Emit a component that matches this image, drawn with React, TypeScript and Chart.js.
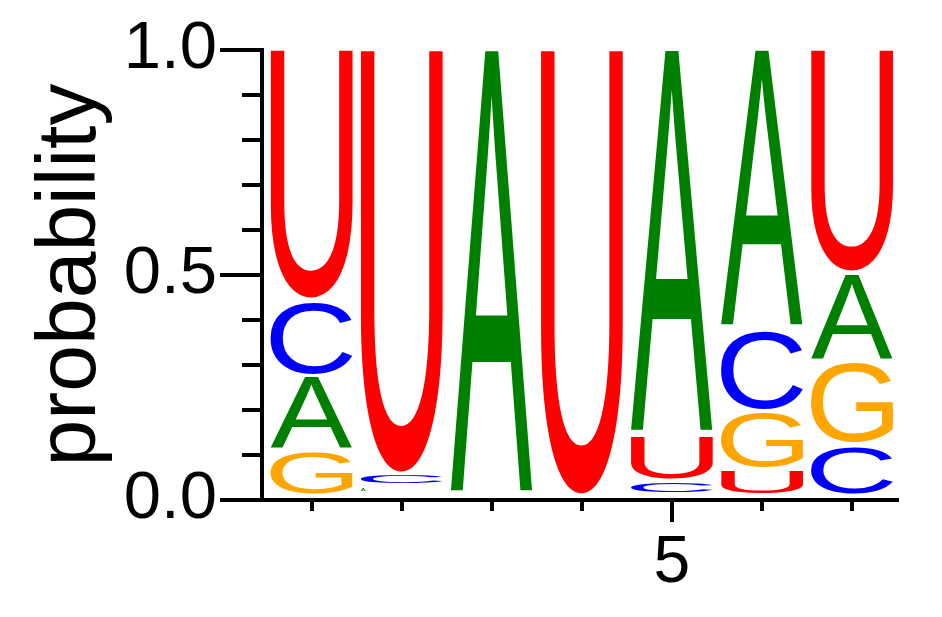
import React, { useEffect, useRef } from "react";
import { Chart, registerables } from "chart.js";

Chart.register(...registerables);

const positions = [1, 2, 3, 4, 5, 6, 7];
const letters = ["A", "C", "G", "U"];
const probA = [0.167, 0.015, 1.0, 0.0, 0.86, 0.624, 0.196];
const probC = [0.169, 0.026, 0.0, 0.0, 0.031, 0.183, 0.118];
const probG = [0.104, 0.012, 0.0, 0.0, 0.007, 0.129, 0.186];
const probU = [0.56, 0.947, 0.0, 1.0, 0.102, 0.064, 0.5];
const letterColors = ["#008000", "#0000ff", "#ffa500", "#ff0000"];
const xLabeledTicks = [5];
const yMajorTicks = [0, 0.5, 1];
const yTitle = "probability";

const FONT = "'Liberation Sans', Arial, Helvetica, sans-serif";

// floating [low, high] ranges: letters stacked smallest at bottom in each column
function buildRanges(): number[][][] {
  const all = [probA, probC, probG, probU];
  const out: number[][][] = all.map(() => []);
  positions.forEach((_, i) => {
    const order = all
      .map((arr, li) => ({ li, v: arr[i] }))
      .sort((a, b) => a.v - b.v);
    let acc = 0;
    order.forEach(({ li, v }) => {
      out[li][i] = [acc, acc + v];
      acc += v;
    });
  });
  return out;
}

function drawGlyph(
  ctx: CanvasRenderingContext2D,
  ch: string,
  color: string,
  left: number,
  top: number,
  w: number,
  h: number
) {
  ctx.save();
  ctx.font = `200px ${FONT}`;
  ctx.textAlign = "left";
  ctx.textBaseline = "alphabetic";
  const m = ctx.measureText(ch);
  const inkL = m.actualBoundingBoxLeft;
  const inkR = m.actualBoundingBoxRight;
  const asc = m.actualBoundingBoxAscent;
  const desc = m.actualBoundingBoxDescent;
  const iw = inkL + inkR;
  const ih = asc + desc;
  let gw = w;
  let gh = h;
  if (h < 4) {
    gh = 3;
    gw = 5;
  }
  ctx.translate(left, top);
  ctx.scale(gw / iw, gh / ih);
  ctx.fillStyle = color;
  ctx.fillText(ch, inkL, asc);
  ctx.restore();
}

const logoPlugin = {
  id: "logoLetters",
  afterDatasetsDraw(chart: any) {
    const ctx: CanvasRenderingContext2D = chart.ctx;
    chart.data.datasets.forEach((ds: any, di: number) => {
      const meta = chart.getDatasetMeta(di);
      meta.data.forEach((bar: any) => {
        const { x, y, base, width } = bar.getProps(["x", "y", "base", "width"], true);
        const top = Math.min(y, base);
        const bottom = Math.max(y, base);
        const boxH = bottom - top;
        const gh = boxH - 4.5;
        if (gh <= 1) return;
        drawGlyph(ctx, ds.label, ds.letterColor, x - width / 2, top, width, gh);
      });
    });
  },
  afterDraw(chart: any) {
    const ctx: CanvasRenderingContext2D = chart.ctx;
    const ys = chart.scales.y;
    const xs = chart.scales.x;
    ctx.save();
    ctx.strokeStyle = "#000";
    ctx.lineWidth = 4;
    ctx.lineCap = "butt";
    ys.ticks.forEach((t: any) => {
      if (yMajorTicks.some((v) => Math.abs(v - t.value) < 1e-6)) return;
      const py = Math.round(ys.getPixelForValue(t.value));
      ctx.beginPath();
      ctx.moveTo(ys.right - 20, py);
      ctx.lineTo(ys.right - 2, py);
      ctx.stroke();
    });
    xs.ticks.forEach((t: any) => {
      if (xLabeledTicks.includes(t.value)) return;
      const px = Math.round(xs.getPixelForValue(t.value));
      ctx.beginPath();
      ctx.moveTo(px, xs.top + 2);
      ctx.lineTo(px, xs.top + 11);
      ctx.stroke();
    });
    ctx.restore();
  },
};

export default function App() {
  const canvasRef = useRef<HTMLCanvasElement | null>(null);

  useEffect(() => {
    if (!canvasRef.current) return;
    const ranges = buildRanges();
    const chart = new Chart(canvasRef.current, {
      type: "bar",
      data: {
        datasets: letters.map((L, li) => ({
          label: L,
          letterColor: letterColors[li],
          data: positions.map((p, i) => ({ x: p, y: ranges[li][i] })),
          backgroundColor: "rgba(0,0,0,0)",
          borderWidth: 0,
          grouped: false,
          categoryPercentage: 1,
          barPercentage: 0.91,
        })) as any,
      },
      options: {
        animation: false,
        responsive: false,
        devicePixelRatio: 1,
        layout: { padding: { left: 0, top: 50, right: 45, bottom: 0 } },
        plugins: { legend: { display: false }, tooltip: { enabled: false } },
        scales: {
          x: {
            type: "linear",
            min: 0.45,
            max: 7.5,
            offset: false,
            border: { display: true, color: "#000", width: 4 },
            grid: {
              offset: false,
              drawOnChartArea: false,
              drawTicks: true,
              tickLength: 22,
              tickWidth: 4,
              lineWidth: 4,
              tickColor: (c: any) =>
                c.tick && xLabeledTicks.includes(c.tick.value) ? "#000" : "rgba(0,0,0,0)",
            },
            ticks: {
              stepSize: 1,
              includeBounds: false,
              autoSkip: false,
              maxRotation: 0,
              padding: 2,
              color: "#000",
              font: { family: FONT, size: 66 },
              callback: (v: any) => (xLabeledTicks.includes(v) ? String(v) : ""),
            },
            afterFit: (s: any) => {
              s.height = 117;
            },
          },
          y: {
            type: "linear",
            min: 0,
            max: 1,
            border: { display: true, color: "#000", width: 4 },
            grid: {
              offset: false,
              drawOnChartArea: false,
              drawTicks: true,
              tickLength: 42,
              tickWidth: 4,
              lineWidth: 4,
              tickColor: (c: any) =>
                c.tick && yMajorTicks.some((v) => Math.abs(v - c.tick.value) < 1e-6)
                  ? "#000"
                  : "rgba(0,0,0,0)",
            },
            ticks: {
              stepSize: 0.1,
              autoSkip: false,
              padding: 3,
              color: "#000",
              font: { family: FONT, size: 67 },
              callback: (v: any) =>
                yMajorTicks.some((m) => Math.abs(m - v) < 1e-6) ? Number(v).toFixed(1) : "",
            },
            title: {
              display: true,
              text: yTitle,
              color: "#000",
              font: { family: FONT, size: 84 },
              padding: { top: 21, bottom: 0 },
            },
            afterFit: (s: any) => {
              s.width = 262;
            },
          },
        },
      } as any,
      plugins: [logoPlugin],
    });
    return () => chart.destroy();
  }, []);

  return (
    <div
      style={{
        position: "absolute",
        left: 0,
        top: 0,
        width: 942,
        height: 617,
        background: "#fff",
      }}
    >
      <canvas ref={canvasRef} width={942} height={617} style={{ display: "block" }} />
    </div>
  );
}
